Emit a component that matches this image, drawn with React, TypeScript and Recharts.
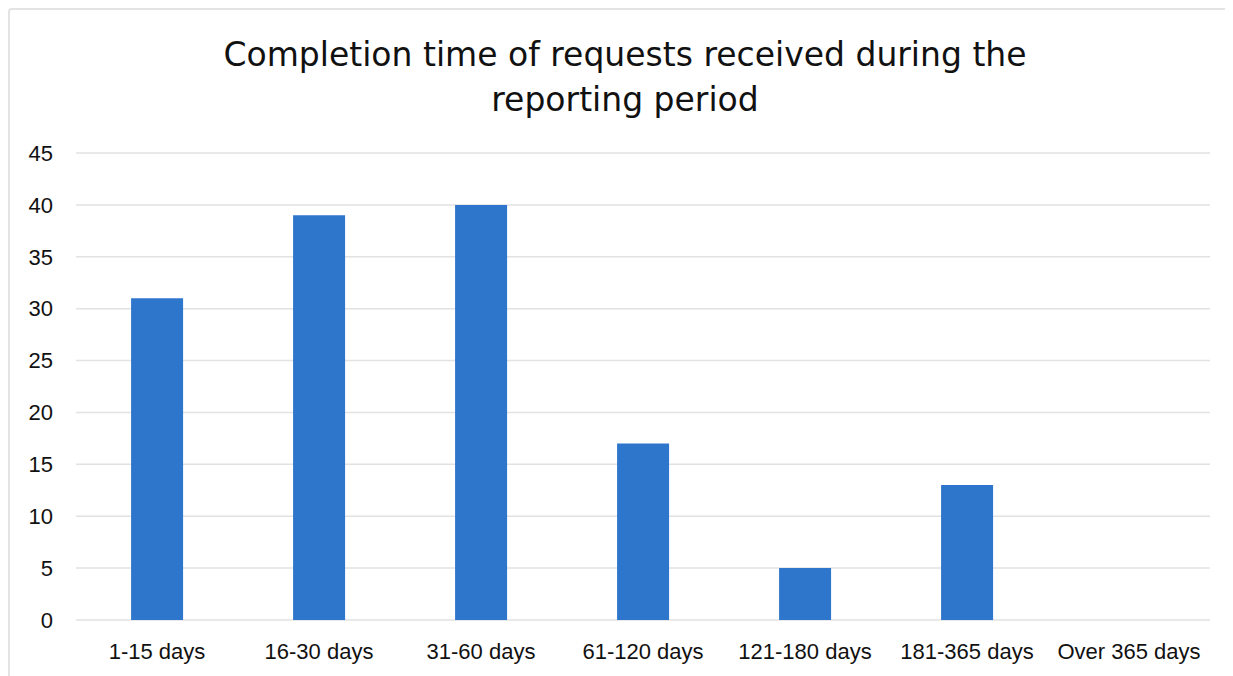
import { BarChart, Bar, XAxis, YAxis, CartesianGrid } from 'recharts'

const categories = ['1-15 days', '16-30 days', '31-60 days', '61-120 days', '121-180 days', '181-365 days', 'Over 365 days']
const requests = [31, 39, 40, 17, 5, 13, 0]
const yTicks = [0, 5, 10, 15, 20, 25, 30, 35, 40, 45]

const data = categories.map((name, i) => ({ name, requests: requests[i] }))

export default function App() {
  return (
    <div style={{ width: 1225, height: 668, overflow: 'hidden' }}>
      <div
        style={{
          position: 'relative',
          width: 1260,
          height: 700,
          border: '2px solid #e3e3e3',
          borderRadius: 4,
          background: '#fff',
          fontFamily: '"Liberation Sans", Arial, sans-serif',
        }}
      >
        <div
          style={{
            position: 'absolute',
            top: 22,
            left: 0,
            width: 1230,
            textAlign: 'center',
            fontFamily: '"DejaVu Sans", sans-serif',
            fontSize: 33,
            lineHeight: '45px',
            color: '#111',
          }}
        >
          Completion time of requests received during the
          <br />
          reporting period
        </div>
        <BarChart
          width={1240}
          height={666}
          data={data}
          margin={{ top: 143, right: 40, bottom: 16, left: 0 }}
          barCategoryGap="34%"
        >
          <CartesianGrid vertical={false} stroke="#e2e2e2" strokeWidth={1.5} />
          <XAxis
            dataKey="name"
            axisLine={false}
            tickLine={false}
            height={40}
            tickMargin={17}
            tick={{ fill: '#111', fontSize: 22 }}
            interval={0}
          />
          <YAxis
            width={66}
            domain={[0, 45]}
            ticks={yTicks}
            axisLine={false}
            tickLine={false}
            tickMargin={17}
            tick={{ fill: '#111', fontSize: 22 }}
          />
          <Bar dataKey="requests" fill="#2e75cc" isAnimationActive={false} />
        </BarChart>
      </div>
    </div>
  )
}
